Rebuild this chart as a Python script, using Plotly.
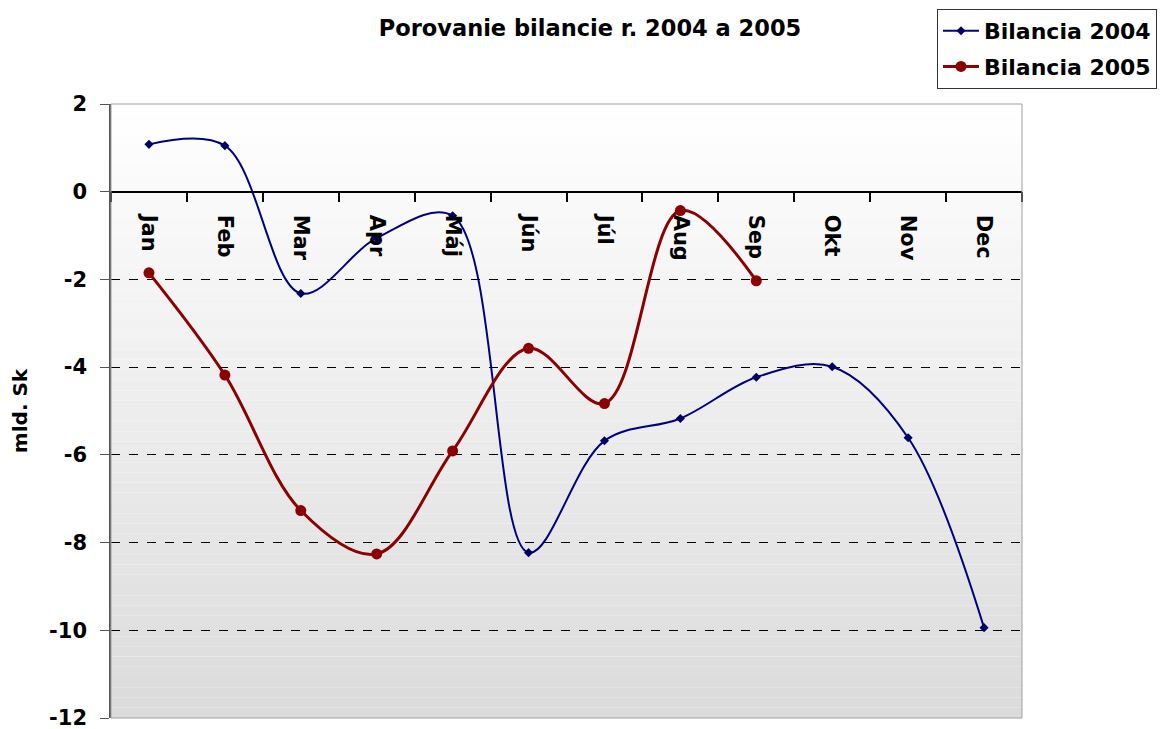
import plotly.graph_objects as go

months = ["Jan", "Feb", "Mar", "Apr", "Máj", "Jún", "Júl", "Aug", "Sep", "Okt", "Nov", "Dec"]
bil2004 = [1.08, 1.05, -2.32, -1.06, -0.55, -8.23, -5.68, -5.17, -4.23, -3.99, -5.61, -9.94]
months2005 = months[:9]
bil2005 = [-1.85, -4.18, -7.27, -8.26, -5.91, -3.57, -4.83, -0.43, -2.03]
y_ticks = [2, 0, -2, -4, -6, -8, -10, -12]
y_tick_labels = ["2", "0", "-2", "-4", "-6", "-8", "-10", "-12"]

FONT = "DejaVu Sans, Arial, sans-serif"
W, H = 1161, 721  # page body has an 8px margin

fig = go.Figure()
fig.add_trace(go.Scatter(
    x=months, y=bil2004, name="Bilancia 2004", mode="lines+markers", legendgroup="a",
    line=dict(color="#000080", width=2, shape="spline", smoothing=1.0),
    marker=dict(symbol="diamond", size=7, color="#000066"),
))
fig.add_trace(go.Scatter(
    x=months2005, y=bil2005, name="Bilancia 2005", mode="lines+markers", legendgroup="b",
    line=dict(color="#8B0000", width=3, shape="spline", smoothing=1.0),
    marker=dict(symbol="circle", size=11, color="#8B0000"),
))

# gradient background of the plot area
N = 60
shapes = []
for i in range(N):
    t = (i + 0.5) / N  # 0 bottom -> 1 top
    c = int(round(219 + (255 - 219) * t))
    shapes.append(dict(type="rect", xref="x domain", yref="y domain",
                       x0=0, x1=1, y0=i / N, y1=(i + 1) / N,
                       fillcolor=f"rgb({c},{c},{c})", line=dict(width=0),
                       layer="below"))
shapes.append(dict(type="rect", xref="x domain", yref="y domain",
                   x0=0, x1=1, y0=0, y1=1, line=dict(color="#a0a0a0", width=1),
                   fillcolor="rgba(0,0,0,0)", layer="above"))

fig.update_layout(
    width=W, height=H,
    margin=dict(l=103, r=147, t=96, b=11, autoexpand=False),
    paper_bgcolor="white", plot_bgcolor="white",
    font=dict(family=FONT, color="black"),
    title=dict(text="Porovanie bilancie r. 2004 a 2005", x=582 / W, xanchor="center",
               y=1 - 20 / H, yanchor="middle", xref="container", yref="container",
               font=dict(family=FONT, size=22.5, weight="bold", color="black")),
    showlegend=True,
    legend=dict(xref="container", yref="container", x=929 / W, y=1 - 1 / H,
                xanchor="left", yanchor="top", bordercolor="#333333", borderwidth=1,
                bgcolor="white", font=dict(family=FONT, size=22, weight="bold", color="black"),
                tracegroupgap=4, itemwidth=36),
    shapes=shapes,
)

fig.update_xaxes(
    type="category", categoryorder="array", categoryarray=months,
    range=[-0.5, 11.5], anchor="free", position=12 / 14, side="bottom",
    showline=True, linecolor="black", linewidth=1.5,
    ticks="outside", ticklen=10, tickcolor="black", tickwidth=1.5, tickson="boundaries",
    tickangle=90, showgrid=False, zeroline=False, automargin=False,
    tickfont=dict(family=FONT, size=21, weight="bold", color="black"),
    ticklabelstandoff=18,
)
fig.update_yaxes(
    range=[-12, 2], tickvals=y_ticks, ticktext=y_tick_labels,
    showline=True, linecolor="#555555", linewidth=1.5,
    ticks="outside", ticklen=9, tickcolor="#555555",
    showgrid=True, gridcolor="black", griddash="dash", gridwidth=1,
    zeroline=False, automargin=False, ticklabeloverflow="allow",
    tickfont=dict(family=FONT, size=21, weight="bold", color="black"),
    ticklabelstandoff=9,
    title=dict(text="mld. Sk", font=dict(family=FONT, size=20, weight="bold", color="black"),
               standoff=20),
)

fig.write_html("out.html")
